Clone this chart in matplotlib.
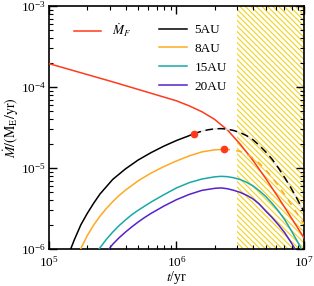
import numpy as np
import matplotlib
matplotlib.use('Agg')
import matplotlib.pyplot as plt

plt.rcParams['font.family'] = ['Liberation Serif', 'DejaVu Serif']
plt.rcParams['mathtext.fontset'] = 'stix'
plt.rcParams['hatch.linewidth'] = 0.8

#### data, as log10(t/yr) and log10(Mdot/(M_E/yr)) ####

# pebble flux M_F
lt_F = [5.0, 5.5, 6.0, 6.1, 6.2, 6.3, 6.4, 6.5, 6.6, 6.7, 6.8, 6.9, 7.0]
lM_F = [-3.711, -3.936, -4.17, -4.232, -4.305, -4.40, -4.53, -4.705, -4.905, -5.128, -5.365,
        -5.612, -5.86]

# 5AU, solid up to the red dot then dashed
lt_5 = [5.17, 5.2, 5.25, 5.3, 5.35, 5.4, 5.5, 5.6, 5.7, 5.8, 5.9, 6.0, 6.1, 6.135]
lM_5 = [-6.0, -5.88, -5.70, -5.56, -5.435, -5.32, -5.14, -5.01, -4.90, -4.81, -4.73, -4.66,
        -4.60, -4.575]
lt_5d = [6.135, 6.2, 6.25, 6.3, 6.35, 6.4, 6.45, 6.5, 6.55, 6.6, 6.65, 6.7, 6.75, 6.8, 6.85,
         6.9, 6.95, 7.0]
lM_5d = [-4.575, -4.545, -4.527, -4.516, -4.513, -4.52, -4.537, -4.563, -4.60, -4.65, -4.72,
         -4.80, -4.89, -5.00, -5.12, -5.25, -5.39, -5.54]

# 8AU
lt_8 = [5.248, 5.3, 5.35, 5.4, 5.45, 5.5, 5.55, 5.6, 5.7, 5.8, 5.9, 6.0, 6.1, 6.2, 6.3, 6.373]
lM_8 = [-6.0, -5.834, -5.704, -5.594, -5.499, -5.414, -5.339, -5.272, -5.157, -5.062, -4.982,
        -4.912, -4.85, -4.80, -4.775, -4.769]
lt_8d = [6.373, 6.45, 6.5, 6.55, 6.6, 6.65, 6.7, 6.75, 6.8, 6.85, 6.9, 6.95, 7.0]
lM_8d = [-4.769, -4.777, -4.795, -4.83, -4.875, -4.94, -5.02, -5.115, -5.22, -5.33, -5.45,
         -5.57, -5.69]

# 15AU
lt_15 = [5.392, 5.45, 5.5, 5.55, 5.6, 5.65, 5.7, 5.8, 5.9, 6.0, 6.1, 6.2, 6.3, 6.35, 6.4, 6.45,
         6.5, 6.55, 6.6, 6.65, 6.7, 6.75, 6.8, 6.85, 6.9, 6.95, 6.98]
lM_15 = [-6.0, -5.88, -5.79, -5.71, -5.64, -5.575, -5.52, -5.42, -5.33, -5.245, -5.18, -5.135,
         -5.108, -5.102, -5.106, -5.12, -5.142, -5.175, -5.22, -5.28, -5.35, -5.435, -5.53,
         -5.64, -5.77, -5.91, -6.0]

# 20AU
lt_20 = [5.47, 5.5, 5.55, 5.6, 5.65, 5.7, 5.75, 5.8, 5.85, 5.9, 5.95, 6.0, 6.1, 6.2, 6.3, 6.35,
         6.4, 6.45, 6.5, 6.55, 6.6, 6.65, 6.7, 6.75, 6.8, 6.85, 6.9, 6.93]
lM_20 = [-6.0, -5.94, -5.86, -5.79, -5.725, -5.665, -5.61, -5.56, -5.515, -5.47, -5.43, -5.39,
         -5.325, -5.275, -5.25, -5.245, -5.255, -5.275, -5.30, -5.335, -5.38, -5.445, -5.53,
         -5.61, -5.70, -5.80, -5.92, -6.0]

# red dots where the dashed parts start
lt_dot = [6.135, 6.373]
lM_dot = [-4.575, -4.769]

t_hatch = [3e6, 1e7]

#### plot ####

fig = plt.figure(figsize=(3.14, 2.86), dpi=100)
ax = fig.add_axes([0.156, 0.129, 0.812, 0.850])

ax.axvspan(t_hatch[0], t_hatch[1], facecolor='none', edgecolor='#f2d31b',
           hatch='\\\\\\\\\\\\', linewidth=0, zorder=0)

red = '#ff3a1a'
c8 = '#ffa91f'
c15 = '#19a8a8'
c20 = '#5522cc'

def p(a):
    return 10.0 ** np.asarray(a)

lF, = ax.plot(p(lt_F), p(lM_F), color=red, lw=1.1, label=r'$\dot{M}_F$', zorder=3)
l5, = ax.plot(p(lt_5), p(lM_5), color='k', lw=1.1, label='5AU', zorder=3)
ax.plot(p(lt_5d), p(lM_5d), color='k', lw=1.1, dashes=(5, 3), gapcolor='#e4e4e4', zorder=3)
l8, = ax.plot(p(lt_8), p(lM_8), color=c8, lw=1.1, label='8AU', zorder=3)
ax.plot(p(lt_8d), p(lM_8d), color=c8, lw=1.1, dashes=(4, 4), zorder=3)
l15, = ax.plot(p(lt_15), p(lM_15), color=c15, lw=1.1, label='15AU', zorder=3)
l20, = ax.plot(p(lt_20), p(lM_20), color=c20, lw=1.1, label='20AU', zorder=3)
ax.plot(p(lt_dot), p(lM_dot), 'o', color=red, ms=4.5, zorder=4)

ax.set_xscale('log')
ax.set_yscale('log')
ax.set_xlim(1e5, 1e7)
ax.set_ylim(1e-6, 1e-3)

ax.tick_params(which='both', direction='in', top=True, right=True, labelsize=9.5)
ax.tick_params(axis='y', pad=2)
ax.tick_params(axis='x', pad=4)
ax.tick_params(which='major', length=6, width=1)
ax.tick_params(which='minor', length=3, width=0.8)
for s in ax.spines.values():
    s.set_linewidth(1.2)

ax.set_xlabel(r'$t$/yr', fontsize=10, labelpad=-0.5)
ax.set_ylabel(r'$\dot{M}/(\mathrm{M_E/yr})$', fontsize=10, labelpad=0)

leg1 = ax.legend(handles=[lF], loc='upper left', bbox_to_anchor=(0.05, 0.985), frameon=False,
                 fontsize=9.5, handlelength=2.1, handletextpad=0.8)
ax.add_artist(leg1)
ax.legend(handles=[l5, l8, l15, l20], loc='upper left', bbox_to_anchor=(0.385, 0.975),
          frameon=False, fontsize=9.5, handlelength=2.1, handletextpad=0.6, labelspacing=0.5)

fig.savefig('out.png', dpi=100)
